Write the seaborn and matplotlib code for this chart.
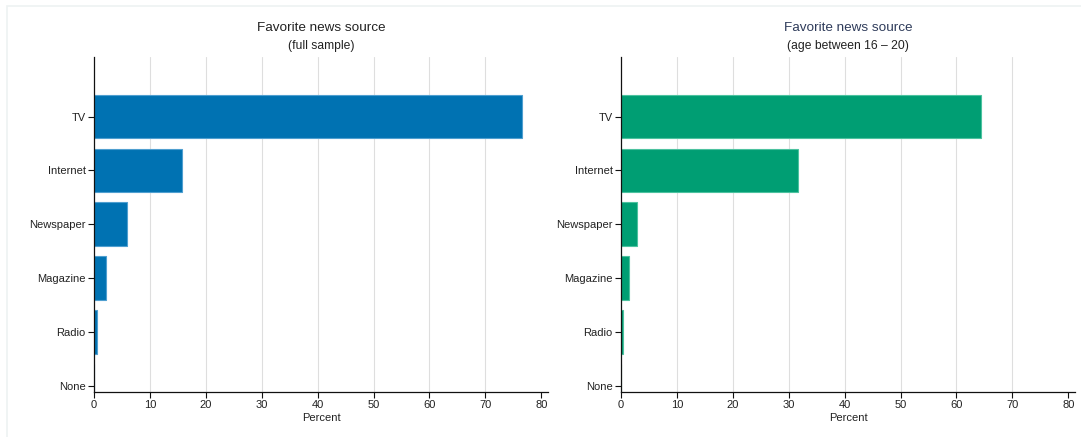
import matplotlib
matplotlib.use("Agg")
import matplotlib.pyplot as plt
from matplotlib.patches import Rectangle
import pandas as pd
import seaborn as sns

# Favorite news source shares (percent)
sources = ["TV", "Internet", "Newspaper", "Magazine", "Radio", "None"]
pct_full = [76.5, 15.7, 5.9, 2.1, 0.55, 0.0]
pct_young = [64.3, 31.7, 2.8, 1.5, 0.3, 0.0]
x_ticks = [0, 10, 20, 30, 40, 50, 60, 70, 80]

sns.set_theme(style="white")
plt.rcParams["font.family"] = ["Liberation Sans", "DejaVu Sans"]

fig = plt.figure(figsize=(10.81, 4.37), dpi=100)
W, H = 1081, 437
panels = [
    (94, pct_full, "#0072B2", "#4f9fd0", "Favorite news source", "#222222", "(full sample)"),
    (621, pct_young, "#009E73", "#4cc29f", "Favorite news source", "#2e3b5a", "(age between 16 \u2013 20)"),
]

top_px, bottom_px, width_px = 57, 392, 454
for left_px, vals, color, edge, title, title_color, subtitle in panels:
    ax = fig.add_axes([left_px / W, 1 - bottom_px / H, width_px / W, (bottom_px - top_px) / H])
    df = pd.DataFrame({"source": sources, "pct": vals})
    sns.barplot(data=df, x="pct", y="source", order=sources, ax=ax, color=color,
                saturation=1, width=0.81, edgecolor=edge, linewidth=0.8)
    ax.set_xlim(0, 81.2)
    ax.set_ylim(5.12, -1.11)
    ax.set_xticks(x_ticks)
    ax.set_xticklabels([str(t) for t in x_ticks])
    ax.set_xlabel("Percent", fontsize=8, color="#222222", labelpad=2)
    ax.set_ylabel("")
    ax.xaxis.grid(True, color="#dedede", linewidth=0.8)
    ax.set_axisbelow(True)
    gl = ax.get_xgridlines()
    gl[0].set_visible(False)
    gl[-1].set_visible(False)
    for side in ("top", "right"):
        ax.spines[side].set_visible(False)
    for side in ("left", "bottom"):
        ax.spines[side].set_color("#111111")
        ax.spines[side].set_linewidth(0.9)
    ax.tick_params(axis="both", which="both", direction="out", length=4, width=0.8,
                   color="#111111", labelsize=8, labelcolor="#222222", pad=2,
                   bottom=True, left=True)
    ax.text(0.5, 1 + 29 / (bottom_px - top_px), title, transform=ax.transAxes,
            ha="center", va="center", fontsize=9.7, color=title_color)
    ax.text(0.5, 1 + 11 / (bottom_px - top_px), subtitle, transform=ax.transAxes,
            ha="center", va="center", fontsize=8.7, color="#222222")

# faint frame around the figure area
fig.add_artist(Rectangle((7 / W, -0.2), 1.2, 1.2 - 6 / H, transform=fig.transFigure,
                         fill=False, edgecolor="#eef2f2", linewidth=1.2))

fig.savefig("out.png", dpi=100)
